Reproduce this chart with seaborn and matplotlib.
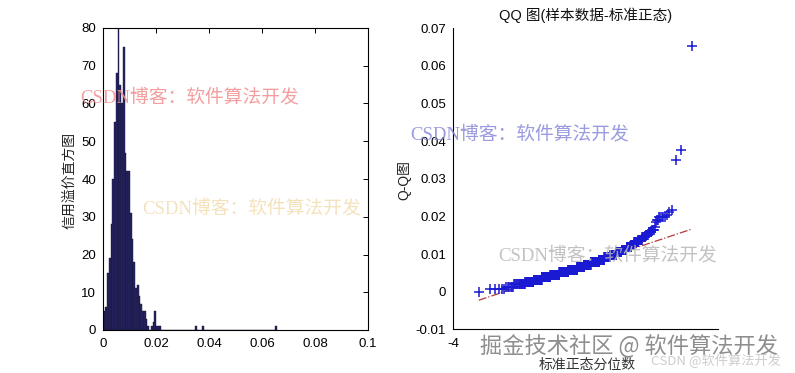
import numpy as np
import pandas as pd
import matplotlib
matplotlib.use("Agg")
import matplotlib.pyplot as plt
import seaborn as sns
from statistics import NormalDist

# ---------------- data ----------------
hist_lo, hist_hi, n_bins = -0.0004, 0.0657, 100
main_counts = [1, 5, 6, 15, 19, 28, 40, 55, 68, 80,
               65, 60, 75, 47, 42, 42, 31, 24, 18, 11,
               12, 9, 7, 5, 5, 3, 1, 0, 1, 2,
               5, 1, 1, 1]
tail_bins = [53, 57, 99]
tail_counts = [1, 1, 1]

hist_xticks = [0, 0.02, 0.04, 0.06, 0.08, 0.1]
hist_xticklabels = ["0", "0.02", "0.04", "0.06", "0.08", "0.1"]
hist_yticks = [0, 10, 20, 30, 40, 50, 60, 70, 80]

qq_xticks = [-4, -2, 0, 2, 4]
# only "-4" is visible; the others are hidden under the watermark in the reference
qq_xticklabels = ["-4", "", "", "", ""]
qq_yticks = [-0.01, 0, 0.01, 0.02, 0.03, 0.04, 0.05, 0.06, 0.07]
qq_yticklabels = ["-0.01", "0", "0.01", "0.02", "0.03", "0.04", "0.05", "0.06", "0.07"]

hist_ylabel = "信用溢价直方图"
qq_title = "QQ 图(样本数据-标准正态)"
qq_ylabel = "Q-Q图"
qq_xlabel = "标准正态分位数"
wm_csdn = "CSDN博客：软件算法开发"
wm_juejin = "掘金技术社区 @ 软件算法开发"
wm_small = "CSDN @软件算法开发"

# ---------------- derived ----------------
edges = np.linspace(hist_lo, hist_hi, n_bins + 1)
centers = (edges[:-1] + edges[1:]) / 2
counts = np.zeros(n_bins)
counts[:len(main_counts)] = main_counts
counts[tail_bins] = tail_counts
hist_df = pd.DataFrame({"value": centers, "count": counts})

sample = np.sort(np.repeat(centers, counts.astype(int)))
n = len(sample)
nd = NormalDist()
theo = np.array([nd.inv_cdf((i - 0.5) / n) for i in range(1, n + 1)])
q1, q3 = np.percentile(sample, [25, 75])
z1, z3 = nd.inv_cdf(0.25), nd.inv_cdf(0.75)
slope = (q3 - q1) / (z3 - z1)
icpt = q1 - slope * z1
line_x = np.array([theo[0], theo[-1]])
line_y = icpt + slope * line_x
qq_df = pd.DataFrame({"theo": theo, "sample": sample})
line_df = pd.DataFrame({"x": line_x, "y": line_y})

# ---------------- style ----------------
sns.set_style("white")
plt.rcParams["font.family"] = ["Liberation Sans", "Noto Sans CJK SC", "DejaVu Sans"]
plt.rcParams["axes.linewidth"] = 0.8

W, H = 795, 373
fig = plt.figure(figsize=(W / 100, H / 100), dpi=100)
fig.patch.set_facecolor("white")

ax1 = fig.add_axes([103 / W, 1 - 330 / H, 265 / W, 302 / H])
ax2 = fig.add_axes([453 / W, 1 - 329.3 / H, 265 / W, 301 / H])

# histogram
sns.histplot(data=hist_df, x="value", weights="count", bins=edges.tolist(), ax=ax1,
             color="#262460", edgecolor="#15143a", linewidth=0.3, alpha=1)
ax1.set_xlim(0, 0.1)
ax1.set_ylim(0, 80)
ax1.set_xticks(hist_xticks)
ax1.set_xticklabels(hist_xticklabels)
ax1.set_yticks(hist_yticks)
ax1.set_xlabel("")
ax1.set_ylabel("")
ax1.tick_params(direction="in", length=3.5, width=0.7, top=True, right=True,
                labelsize=9.5, colors="black")
ax1.tick_params(axis="x", pad=6)
ax1.tick_params(axis="y", pad=5)
for s in ax1.spines.values():
    s.set_visible(True)
    s.set_color("black")

# QQ plot
sns.lineplot(data=line_df, x="x", y="y", ax=ax2, color="#b23a3a", linestyle="-.",
             linewidth=0.9, zorder=2)
sns.scatterplot(data=qq_df, x="theo", y="sample", ax=ax2, marker="+", s=60,
                color="#1a1ad2", linewidth=1.1, zorder=3)
ax2.set_xlim(-4, 4)
ax2.set_ylim(-0.01, 0.07)
ax2.set_xticks(qq_xticks)
ax2.set_xticklabels(qq_xticklabels)
ax2.set_yticks(qq_yticks)
ax2.set_yticklabels(qq_yticklabels)
ax2.set_xlabel("")
ax2.set_ylabel("")
ax2.tick_params(direction="in", length=3.5, width=0.7, labelsize=9.5, colors="black")
ax2.tick_params(axis="x", pad=6)
ax2.tick_params(axis="y", pad=5)
ax2.spines["top"].set_visible(False)
ax2.spines["right"].set_visible(False)
for k in ("left", "bottom"):
    ax2.spines[k].set_color("black")

# labels
def ft(x, y, s, **kw):
    return fig.text(x / W, 1 - y / H, s, **kw)

ft(70, 180, hist_ylabel, rotation=90, ha="center", va="center", fontsize=10,
   family=["Noto Sans CJK SC", "DejaVu Sans"], color="#222222")
ft(586, 15, qq_title, ha="center", va="center", fontsize=10.5, color="#111111")
ft(404, 180, qq_ylabel, rotation=90, ha="center", va="center", fontsize=10,
   color="#222222")
ft(587, 365, qq_xlabel, ha="center", va="center", fontsize=10,
   family=["Noto Sans CJK SC", "DejaVu Sans"], color="#333333")

# watermarks
wm_fam = ["Liberation Serif", "Noto Sans CJK SC", "DejaVu Sans"]
ft(190, 98, wm_csdn, ha="center", va="center", fontsize=13.5, family=wm_fam,
   color="#f28e8e", alpha=0.85)
ft(252, 209, wm_csdn, ha="center", va="center", fontsize=13.5, family=wm_fam,
   color="#f3ddb2", alpha=0.85)
ft(520, 135, wm_csdn, ha="center", va="center", fontsize=13.5, family=wm_fam,
   color="#8888dc", alpha=0.85)
ft(608, 256, wm_csdn, ha="center", va="center", fontsize=13.5, family=wm_fam,
   color="#b8b8b8", alpha=0.85)
ft(629, 346, wm_juejin, ha="center", va="center", fontsize=16,
   family=["Noto Sans CJK SC", "DejaVu Sans"], color="#8e8e8e")
ft(716, 361, wm_small, ha="center", va="center", fontsize=9.5,
   family=["Noto Sans CJK SC", "DejaVu Sans"], color="#c8c8c8", alpha=0.9)

fig.savefig("out.png", dpi=100)
